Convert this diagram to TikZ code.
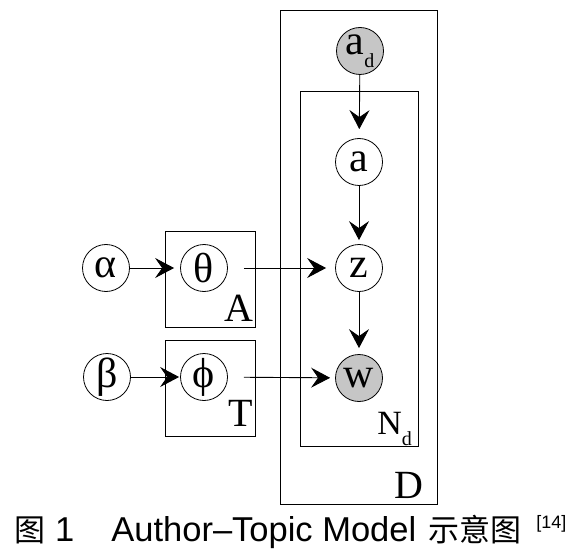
\documentclass[tikz,border=0pt]{standalone}
\usepackage{fontspec}
\setmainfont{Liberation Serif}
\setsansfont{Liberation Sans}
\newfontfamily\cjk{Noto Sans CJK SC}
\usetikzlibrary{arrows.meta}
\newcommand\varfont{\fontsize{42}{44}\selectfont}
\newcommand\subfont{\fontsize{20}{20}\selectfont}
\newcommand\platefont{\fontsize{40}{42}\selectfont}

\begin{document}
\begin{tikzpicture}[x=1pt,y=-1pt,
	every node/.style={inner sep=0pt},
	var/.style={circle,draw,line width=0.8pt,minimum size=47pt,font=\varfont},
	obs/.style={var,fill=gray!45},
	plate/.style n args={2}{draw,line width=0.8pt,minimum width=#1,minimum height=#2},
	edge/.style={-{Stealth[length=19pt,width=20pt,inset=7pt]},line width=0.9pt,shorten >=6pt}]
	%% page size
	\useasboundingbox (0,0) rectangle (588,553);

	%% plates
	\node[plate={156.6pt}{494pt}] (plateD) at (359,257) {};
	\node[plate={117.8pt}{355.7pt}] (plateN) at (359.4,268.8) {};
	\node[plate={90.2pt}{95.3pt}] (plateA) at (210.6,279.3) {};
	\node[plate={90pt}{96pt}] (plateT) at (210.7,388.7) {};

	\node[anchor=base east,font=\platefont] (labD) at (424,498) {D};
	\node[anchor=base east,font=\platefont] (labA) at (253.5,321.7) {A};
	\node[anchor=base east,font=\platefont] (labT) at (253,426.7) {T};
	\node[anchor=base east] (labN) at (412,434)
		{\fontsize{34}{34}\selectfont N\raisebox{-11pt}{\subfont d}};

	%% variables
	\node[obs] (ad) at (360,51) {a\raisebox{-13pt}{\subfont d}};
	\node[var] (a) at (359,162) {a};
	\node[var] (z) at (359,268) {z};
	\node[obs] (w) at (359,378) {w};
	\node[var] (alpha) at (106,268) {α};
	\node[var] (theta) at (204,268) {θ};
	\node[var] (beta) at (107,377) {β};
	\node[var] (phi) at (204,377) {ϕ};

	%% edges
	\draw[edge,shorten >=9pt] (ad) -- (a);
	\draw[edge,shorten >=4pt] (a) -- (z);
	\draw[edge] (z) -- (w);
	\draw[edge] (alpha) -- (theta);
	\draw[edge,shorten >=1pt] (beta) -- (phi);
	\draw[edge,shorten <=16pt,shorten >=9pt] (theta) -- (z);
	\draw[edge,shorten <=16pt,shorten >=5pt] (phi) -- (w);

	%% caption
	\node[anchor=base west,font=\sffamily\fontsize{34.5}{36}\selectfont] (caption) at (14,541.5)
		{{\cjk\fontsize{31}{32}\selectfont 图}\hspace{10pt}1\hspace{37pt}Author–Topic Model\hspace{12pt}{\cjk\fontsize{31}{32}\selectfont 示意图}\hspace{15pt}\raisebox{13pt}{\fontsize{18}{18}\selectfont [14]}};
\end{tikzpicture}
\end{document}
